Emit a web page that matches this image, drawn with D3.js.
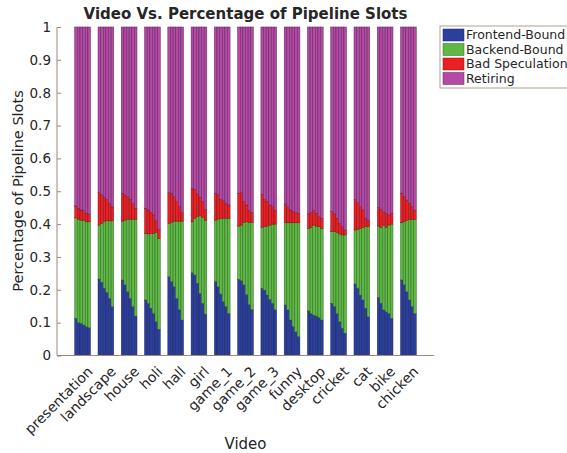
<!DOCTYPE html>
<html>
<head>
<meta charset="utf-8">
<script src="https://cdn.jsdelivr.net/npm/d3@7"></script>
<style>
  body { margin: 0; background: #fff; }
  text { font-family: "DejaVu Sans", sans-serif; fill: #262626; }
</style>
</head>
<body>
<div id="chart"></div>
<script>
// videos on the x axis
var videos = ['presentation', 'landscape', 'house', 'holi', 'hall', 'girl', 'game_1',
  'game_2', 'game_3', 'funny', 'desktop', 'cricket', 'cat', 'bike', 'chicken'];
var seriesNames = ['Frontend-Bound', 'Backend-Bound', 'Bad Speculation', 'Retiring'];
var yTicks = [0, 0.1, 0.2, 0.3, 0.4, 0.5, 0.6, 0.7, 0.8, 0.9, 1];

// six runs per video, one array per series
var frontend = [
  [.113, .100, .098, .093, .088, .085],
  [.233, .223, .205, .192, .174, .149],
  [.230, .215, .194, .174, .149, .120],
  [.169, .159, .144, .128, .103, .080],
  [.240, .225, .209, .174, .139, .108],
  [.252, .245, .220, .189, .159, .126],
  [.225, .209, .187, .164, .149, .128],
  [.232, .228, .215, .185, .155, .140],
  [.205, .199, .184, .171, .159, .139],
  [.154, .139, .108, .088, .072, .057],
  [.136, .128, .123, .120, .115, .108],
  [.159, .149, .128, .103, .083, .068],
  [.218, .205, .184, .169, .144, .118],
  [.177, .159, .139, .133, .128, .113],
  [.230, .215, .194, .169, .149, .128]
];
var backend = [
  [.306, .315, .314, .319, .319, .322],
  [.164, .179, .204, .218, .236, .261],
  [.179, .197, .221, .241, .266, .295],
  [.203, .211, .228, .244, .272, .277],
  [.162, .180, .200, .235, .270, .301],
  [.155, .173, .203, .236, .262, .286],
  [.187, .206, .230, .254, .269, .290],
  [.162, .169, .190, .222, .250, .265],
  [.185, .193, .210, .226, .241, .261],
  [.250, .265, .296, .316, .332, .347],
  [.251, .262, .274, .274, .277, .279],
  [.218, .228, .246, .267, .284, .299],
  [.164, .179, .203, .221, .248, .274],
  [.217, .231, .258, .257, .269, .287],
  [.174, .192, .218, .245, .265, .286]
];
var badSpec = [
  [.036, .033, .031, .029, .026, .024],
  [.099, .087, .073, .065, .053, .042],
  [.085, .077, .068, .060, .048, .033],
  [.076, .073, .064, .056, .035, .027],
  [.094, .089, .074, .059, .044, .026],
  [.102, .088, .069, .057, .047, .033],
  [.082, .074, .058, .053, .045, .040],
  [.100, .099, .063, .051, .037, .030],
  [.101, .083, .074, .061, .053, .042],
  [.057, .049, .039, .034, .031, .029],
  [.044, .045, .044, .039, .031, .031],
  [.061, .054, .044, .032, .025, .015],
  [.093, .081, .066, .053, .026, .020],
  [.057, .055, .041, .043, .031, .033],
  [.090, .076, .061, .049, .039, .028]
];
var retiring = [
  [.545, .552, .557, .559, .567, .569],
  [.504, .511, .518, .525, .537, .548],
  [.506, .511, .517, .525, .537, .552],
  [.552, .557, .564, .572, .590, .616],
  [.504, .506, .517, .532, .547, .565],
  [.491, .494, .508, .518, .532, .555],
  [.506, .511, .525, .529, .537, .542],
  [.506, .504, .532, .542, .558, .565],
  [.509, .525, .532, .542, .547, .558],
  [.539, .547, .557, .562, .565, .567],
  [.569, .565, .559, .567, .577, .582],
  [.562, .569, .582, .598, .608, .618],
  [.525, .535, .547, .557, .582, .588],
  [.549, .555, .562, .567, .572, .567],
  [.506, .517, .527, .537, .547, .558]
];

var width = 567;
var height = 453;
var colors = ['#2b3f9c', '#5fb844', '#ec2024', '#b44aa6'];
var edges = ['#1c2560', '#2f6a24', '#7a1414', '#5e2458'];
var axisColor = '#9a8a78';

var svg = d3.select('#chart').append('svg')
  .attr('width', width)
  .attr('height', height)
  .style('background-color', '#fff');

// scales: categories sit at 1..15 like a matlab bar plot
var x = d3.scaleLinear().domain([-0.1, 16.1]).range([57, 434]);
var y = d3.scaleLinear().domain([0, 1]).range([355.5, 27]);
var groupWidth = 0.675;
var nRuns = 6;
var barW = (x(groupWidth) - x(0)) / nRuns;

// build stacked rects
var rows = [];
videos.forEach(function (v, i) {
  for (var j = 0; j < nRuns; j++) {
    var vals = [frontend[i][j], backend[i][j], badSpec[i][j], retiring[i][j]];
    var base = 0;
    vals.forEach(function (val, k) {
      rows.push({ video: i, run: j, series: k, y0: base, y1: base + val });
      base += val;
    });
  }
});

var plot = svg.append('g').attr('class', 'bars');
plot.selectAll('rect')
  .data(rows)
  .enter()
  .append('rect')
  .attr('x', function (d) {
    return x(d.video + 1 - groupWidth / 2) + d.run * barW;
  })
  .attr('y', function (d) { return y(Math.min(d.y1, 1)); })
  .attr('width', barW)
  .attr('height', function (d) { return y(d.y0) - y(Math.min(d.y1, 1)); })
  .attr('fill', function (d) { return colors[d.series]; })
  .attr('stroke', function (d) { return edges[d.series]; })
  .attr('stroke-width', 0.5);

// y axis
var yAxis = svg.append('g')
  .attr('transform', 'translate(' + x.range()[0] + ',0)')
  .call(d3.axisRight(y).tickValues(yTicks).tickSize(4).tickFormat(d3.format('')));
yAxis.select('.domain').attr('stroke', axisColor).attr('d', 'M0,' + y(0) + 'V' + y(1));
yAxis.selectAll('.tick line').attr('stroke', axisColor);
yAxis.selectAll('.tick text')
  .attr('x', -6)
  .attr('text-anchor', 'end')
  .style('font-size', '13.5px')
  .style('font-family', 'DejaVu Sans');

// x axis
svg.append('line')
  .attr('x1', x.range()[0]).attr('x2', x.range()[1])
  .attr('y1', y(0)).attr('y2', y(0))
  .attr('stroke', axisColor);

svg.append('g').selectAll('text')
  .data(videos)
  .enter()
  .append('text')
  .attr('transform', function (d, i) {
    return 'translate(' + (x(i + 1) + 4) + ',' + (y(0) + 10) + ') rotate(-45)';
  })
  .attr('text-anchor', 'end')
  .attr('dy', '0.7em')
  .style('font-size', '14px')
  .text(function (d) { return d; });

// titles
svg.append('text')
  .attr('x', 245.5)
  .attr('y', 19)
  .attr('text-anchor', 'middle')
  .style('font-size', '15px')
  .style('font-weight', 'bold')
  .text('Video Vs. Percentage of Pipeline Slots');

svg.append('text')
  .attr('x', 245.5)
  .attr('y', 449)
  .attr('text-anchor', 'middle')
  .style('font-size', '15px')
  .text('Video');

svg.append('text')
  .attr('transform', 'translate(23,191) rotate(-90)')
  .attr('text-anchor', 'middle')
  .style('font-size', '14.5px')
  .text('Percentage of Pipeline Slots');

// legend
var legend = svg.append('g').attr('transform', 'translate(440,26)');
legend.append('rect')
  .attr('width', 140)
  .attr('height', 62)
  .attr('fill', '#fff')
  .attr('stroke', axisColor)
  .attr('stroke-width', 0.8);
seriesNames.forEach(function (name, k) {
  legend.append('rect')
    .attr('x', 3)
    .attr('y', 3 + k * 14.5)
    .attr('width', 21)
    .attr('height', 12)
    .attr('fill', colors[k])
    .attr('stroke', edges[k])
    .attr('stroke-width', 0.5);
  legend.append('text')
    .attr('x', 26)
    .attr('y', 9 + k * 14.5)
    .attr('dy', '0.35em')
    .style('font-size', '12.5px')
    .text(name);
});
</script>
</body>
</html>
